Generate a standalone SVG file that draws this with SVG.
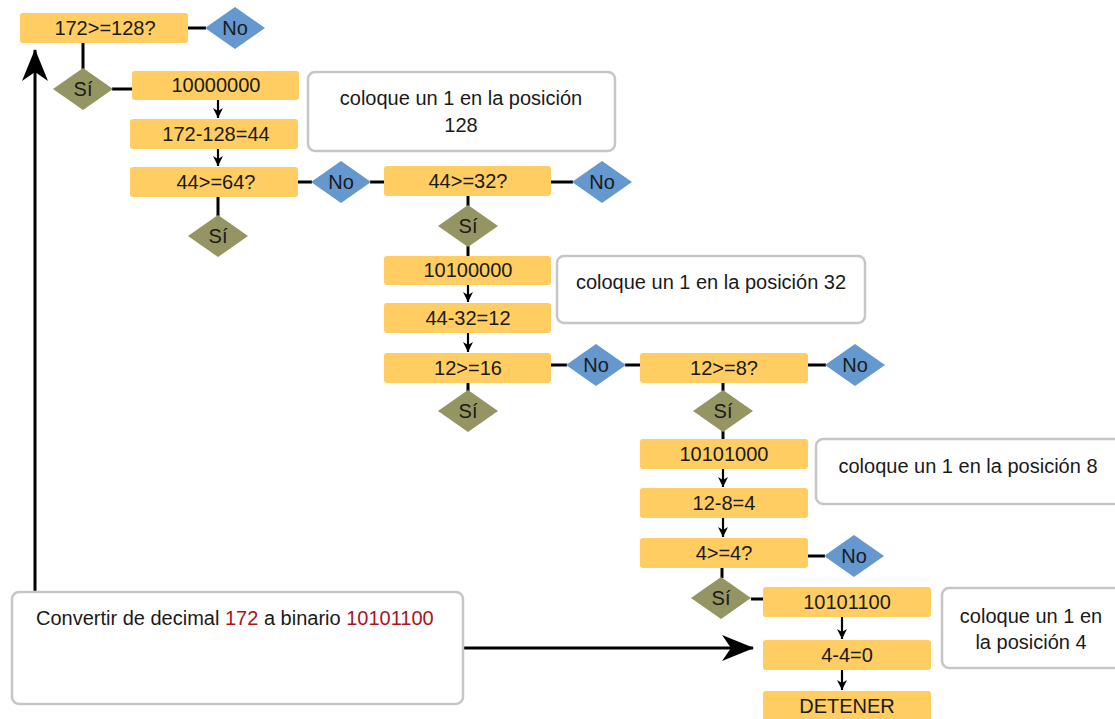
<svg xmlns="http://www.w3.org/2000/svg" width="1115" height="719" viewBox="0 0 1115 719">
<style>
text{font-family:"Liberation Sans",Arial,sans-serif;font-size:20px;fill:#1a1a1a}
.b{fill:#FFCD62}
.t{text-anchor:middle}
.si{fill:#949563}
.no{fill:#6498CE}
.note{fill:#fff;stroke:#c6c6c6;stroke-width:2.5}
.c{stroke:#000;stroke-width:3;fill:none}
.a{stroke:#000;stroke-width:2.2;fill:none}
.r{fill:#A8161E}
</style>
<defs>
<marker id="sm" viewBox="0 0 10 10" refX="10" refY="5" markerWidth="10" markerHeight="10" markerUnits="userSpaceOnUse" orient="auto"><path d="M0,0 L10,5 L0,10 L3,5 z" fill="#000"/></marker>
<marker id="big" viewBox="0 0 32 26" refX="31" refY="13" markerWidth="32" markerHeight="26" markerUnits="userSpaceOnUse" orient="auto"><path d="M0,0 L32,13 L0,26 L9,13 z" fill="#000"/></marker>
</defs>

<g id="connectors">
<line class="c" x1="188" y1="28" x2="206" y2="28"/>
<line class="c" x1="83" y1="43" x2="83" y2="69"/>
<line class="c" x1="112" y1="89" x2="132" y2="89"/>
<line class="a" x1="218" y1="100" x2="218" y2="118" marker-end="url(#sm)"/>
<line class="a" x1="218" y1="149" x2="218" y2="166" marker-end="url(#sm)"/>
<line class="c" x1="218" y1="197" x2="218" y2="216"/>
<line class="c" x1="298" y1="182" x2="312" y2="182"/>
<line class="c" x1="370" y1="182" x2="384" y2="182"/>
<line class="c" x1="551" y1="182" x2="573" y2="182"/>
<line class="c" x1="468" y1="196" x2="468" y2="206"/>
<line class="c" x1="468" y1="246" x2="468" y2="256"/>
<line class="a" x1="468" y1="285" x2="468" y2="302" marker-end="url(#sm)"/>
<line class="a" x1="468" y1="333" x2="468" y2="352" marker-end="url(#sm)"/>
<line class="c" x1="551" y1="365" x2="567" y2="365"/>
<line class="c" x1="625" y1="365" x2="640" y2="365"/>
<line class="c" x1="808" y1="365" x2="826" y2="365"/>
<line class="c" x1="468" y1="383" x2="468" y2="391"/>
<line class="c" x1="723" y1="383" x2="723" y2="391"/>
<line class="c" x1="723" y1="431" x2="723" y2="439"/>
<line class="a" x1="723" y1="469" x2="723" y2="487" marker-end="url(#sm)"/>
<line class="a" x1="723" y1="518" x2="723" y2="537" marker-end="url(#sm)"/>
<line class="c" x1="808" y1="556" x2="825" y2="556"/>
<line class="c" x1="722" y1="568" x2="722" y2="578"/>
<line class="c" x1="751" y1="599" x2="763" y2="599"/>
<line class="a" x1="842" y1="617" x2="842" y2="639" marker-end="url(#sm)"/>
<line class="a" x1="842" y1="670" x2="842" y2="690" marker-end="url(#sm)"/>
<line class="c" x1="463" y1="648" x2="753" y2="648" marker-end="url(#big)"/>
<line class="c" x1="35" y1="592" x2="35" y2="50" marker-end="url(#big)"/>
</g>

<g id="q128"><rect class="b" x="20" y="13" width="168" height="30" rx="3"/><text class="t" x="105" y="35">172&gt;=128?</text></g>
<g id="no1"><polygon class="no" points="205,28 235,7 265,28 235,49"/><text class="t" x="235" y="35">No</text></g>
<g id="si1"><polygon class="si" points="53,89 83,68 113,89 83,110"/><text class="t" x="83" y="96">Sí</text></g>
<g id="r10000000"><rect class="b" x="132" y="71" width="167" height="29" rx="3"/><text class="t" x="216" y="92">10000000</text></g>
<g id="s172"><rect class="b" x="130" y="119" width="168" height="30" rx="3"/><text class="t" x="216" y="141">172-128=44</text></g>
<g id="q64"><rect class="b" x="130" y="167" width="168" height="30" rx="3"/><text class="t" x="216" y="189">44&gt;=64?</text></g>
<g id="si2"><polygon class="si" points="188,236 218,215 248,236 218,257"/><text class="t" x="218" y="243">Sí</text></g>
<g id="no2"><polygon class="no" points="311,182 341,161 371,182 341,203"/><text class="t" x="341" y="189">No</text></g>
<g id="q32"><rect class="b" x="384" y="166" width="167" height="30" rx="3"/><text class="t" x="468" y="188">44&gt;=32?</text></g>
<g id="no3"><polygon class="no" points="572,182 602,161 632,182 602,203"/><text class="t" x="602" y="189">No</text></g>
<g id="si3"><polygon class="si" points="438,226 468,205 498,226 468,247"/><text class="t" x="468" y="233">Sí</text></g>
<g id="r10100000"><rect class="b" x="384" y="256" width="167" height="29" rx="3"/><text class="t" x="468" y="277">10100000</text></g>
<g id="s44"><rect class="b" x="384" y="303" width="167" height="30" rx="3"/><text class="t" x="468" y="325">44-32=12</text></g>
<g id="q16"><rect class="b" x="384" y="353" width="167" height="30" rx="3"/><text class="t" x="468" y="375">12&gt;=16</text></g>
<g id="no4"><polygon class="no" points="566,365 596,344 626,365 596,386"/><text class="t" x="596" y="372">No</text></g>
<g id="si4"><polygon class="si" points="438,411 468,390 498,411 468,432"/><text class="t" x="468" y="418">Sí</text></g>
<g id="q8"><rect class="b" x="640" y="353" width="168" height="30" rx="3"/><text class="t" x="724" y="375">12&gt;=8?</text></g>
<g id="no5"><polygon class="no" points="825,365 855,344 885,365 855,386"/><text class="t" x="855" y="372">No</text></g>
<g id="si5"><polygon class="si" points="693,411 723,390 753,411 723,432"/><text class="t" x="723" y="418">Sí</text></g>
<g id="r10101000"><rect class="b" x="640" y="439" width="168" height="30" rx="3"/><text class="t" x="724" y="461">10101000</text></g>
<g id="s12"><rect class="b" x="640" y="488" width="168" height="30" rx="3"/><text class="t" x="724" y="510">12-8=4</text></g>
<g id="q4"><rect class="b" x="640" y="538" width="168" height="30" rx="3"/><text class="t" x="724" y="560">4&gt;=4?</text></g>
<g id="no6"><polygon class="no" points="824,556 854,535 884,556 854,577"/><text class="t" x="854" y="563">No</text></g>
<g id="si6"><polygon class="si" points="691,598 721,577 751,598 721,619"/><text class="t" x="721" y="605">Sí</text></g>
<g id="r10101100"><rect class="b" x="763" y="587" width="168" height="30" rx="3"/><text class="t" x="847" y="609">10101100</text></g>
<g id="s4"><rect class="b" x="763" y="640" width="168" height="30" rx="3"/><text class="t" x="847" y="662">4-4=0</text></g>
<g id="stop"><rect class="b" x="763" y="691" width="168" height="32" rx="3"/><text class="t" x="847" y="713">DETENER</text></g>

<g id="note128"><rect class="note" x="308" y="72" width="307" height="79" rx="7"/><text class="t" x="461" y="105">coloque un 1 en la posición</text><text class="t" x="461" y="132">128</text></g>
<g id="note32"><rect class="note" x="557" y="256" width="308" height="67" rx="7"/><text class="t" x="711" y="289">coloque un 1 en la posición 32</text></g>
<g id="note8"><rect class="note" x="816" y="439" width="310" height="65" rx="7"/><text class="t" x="968" y="473">coloque un 1 en la posición 8</text></g>
<g id="note4"><rect class="note" x="942" y="588" width="180" height="80" rx="7"/><text class="t" x="1031" y="623">coloque un 1 en</text><text class="t" x="1031" y="649">la posición 4</text></g>
<g id="main"><rect class="note" x="12" y="592" width="451" height="112" rx="7"/><text x="36" y="625">Convertir de decimal <tspan class="r">172</tspan> a binario <tspan class="r">10101100</tspan></text></g>
</svg>
